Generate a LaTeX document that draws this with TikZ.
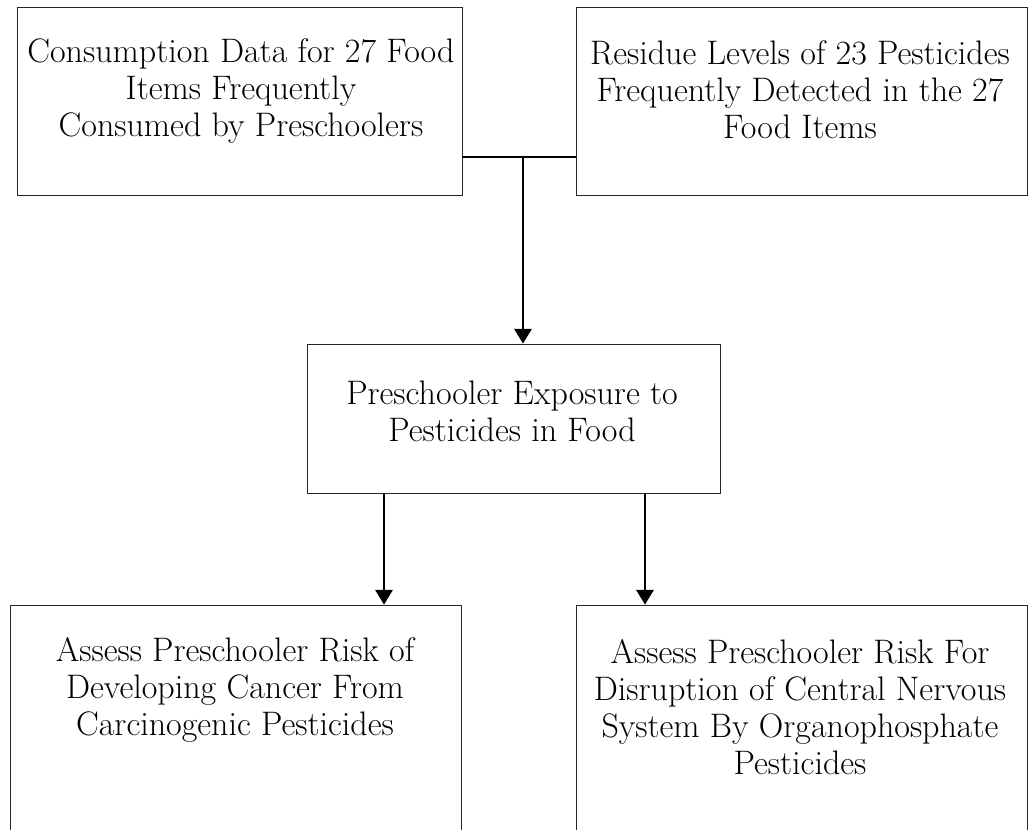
\documentclass[tikz,border=0pt]{standalone}
\usetikzlibrary{arrows.meta}
\begin{document}
\begin{tikzpicture}[x=0.75pt,y=-0.75pt,
  box/.style={draw=black!85,line width=0.6pt,rectangle,inner sep=0pt},
  label/.style={align=center,font=\fontsize{25.5}{27.8}\selectfont,inner sep=0pt},
  link/.style={line width=1.4pt},
  flow/.style={line width=1.4pt,-{Triangle[width=13pt,length=11pt]}}]
\useasboundingbox (0,0) rectangle (1029,829);
\clip (0,0) rectangle (1029,829);
\node[box,minimum width=333.75pt,minimum height=141pt] (box1) at (239.5,101) {};
\node[box,minimum width=338.25pt,minimum height=141pt] (box2) at (801.5,101) {};
\node[box,minimum width=309.75pt,minimum height=111.75pt] (mid) at (513.5,418.5) {};
\node[box,minimum width=338.25pt,minimum height=180pt] (b1) at (235.5,725) {};
\node[box,minimum width=338.25pt,minimum height=180pt] (b2) at (801.5,725) {};
\node[label] (t1) at (241,91) {Consumption Data for 27 Food\\Items Frequently\\Consumed by Preschoolers};
\node[label] (t2) at (800,90) {Residue Levels of 23 Pesticides\\Frequently Detected in the 27\\Food Items};
\node[label] (t3) at (512,411) {Preschooler Exposure to\\Pesticides in Food};
\node[label] (t4) at (235,690) {Assess Preschooler Risk of\\Developing Cancer From\\Carcinogenic Pesticides};
\node[label] (t5) at (800,707) {Assess Preschooler Risk For\\Disruption of Central Nervous\\System By Organophosphate\\Pesticides};
\coordinate (j) at (523,157);
\coordinate (xa) at (384,0);
\coordinate (xb) at (645,0);
\draw[link] (box1.east |- j) -- (box2.west |- j);
\draw[flow] (j) -- (j |- mid.north);
\draw[flow] (xa |- mid.south) -- (xa |- b1.north);
\draw[flow] (xb |- mid.south) -- (xb |- b2.north);
\end{tikzpicture}
\end{document}
